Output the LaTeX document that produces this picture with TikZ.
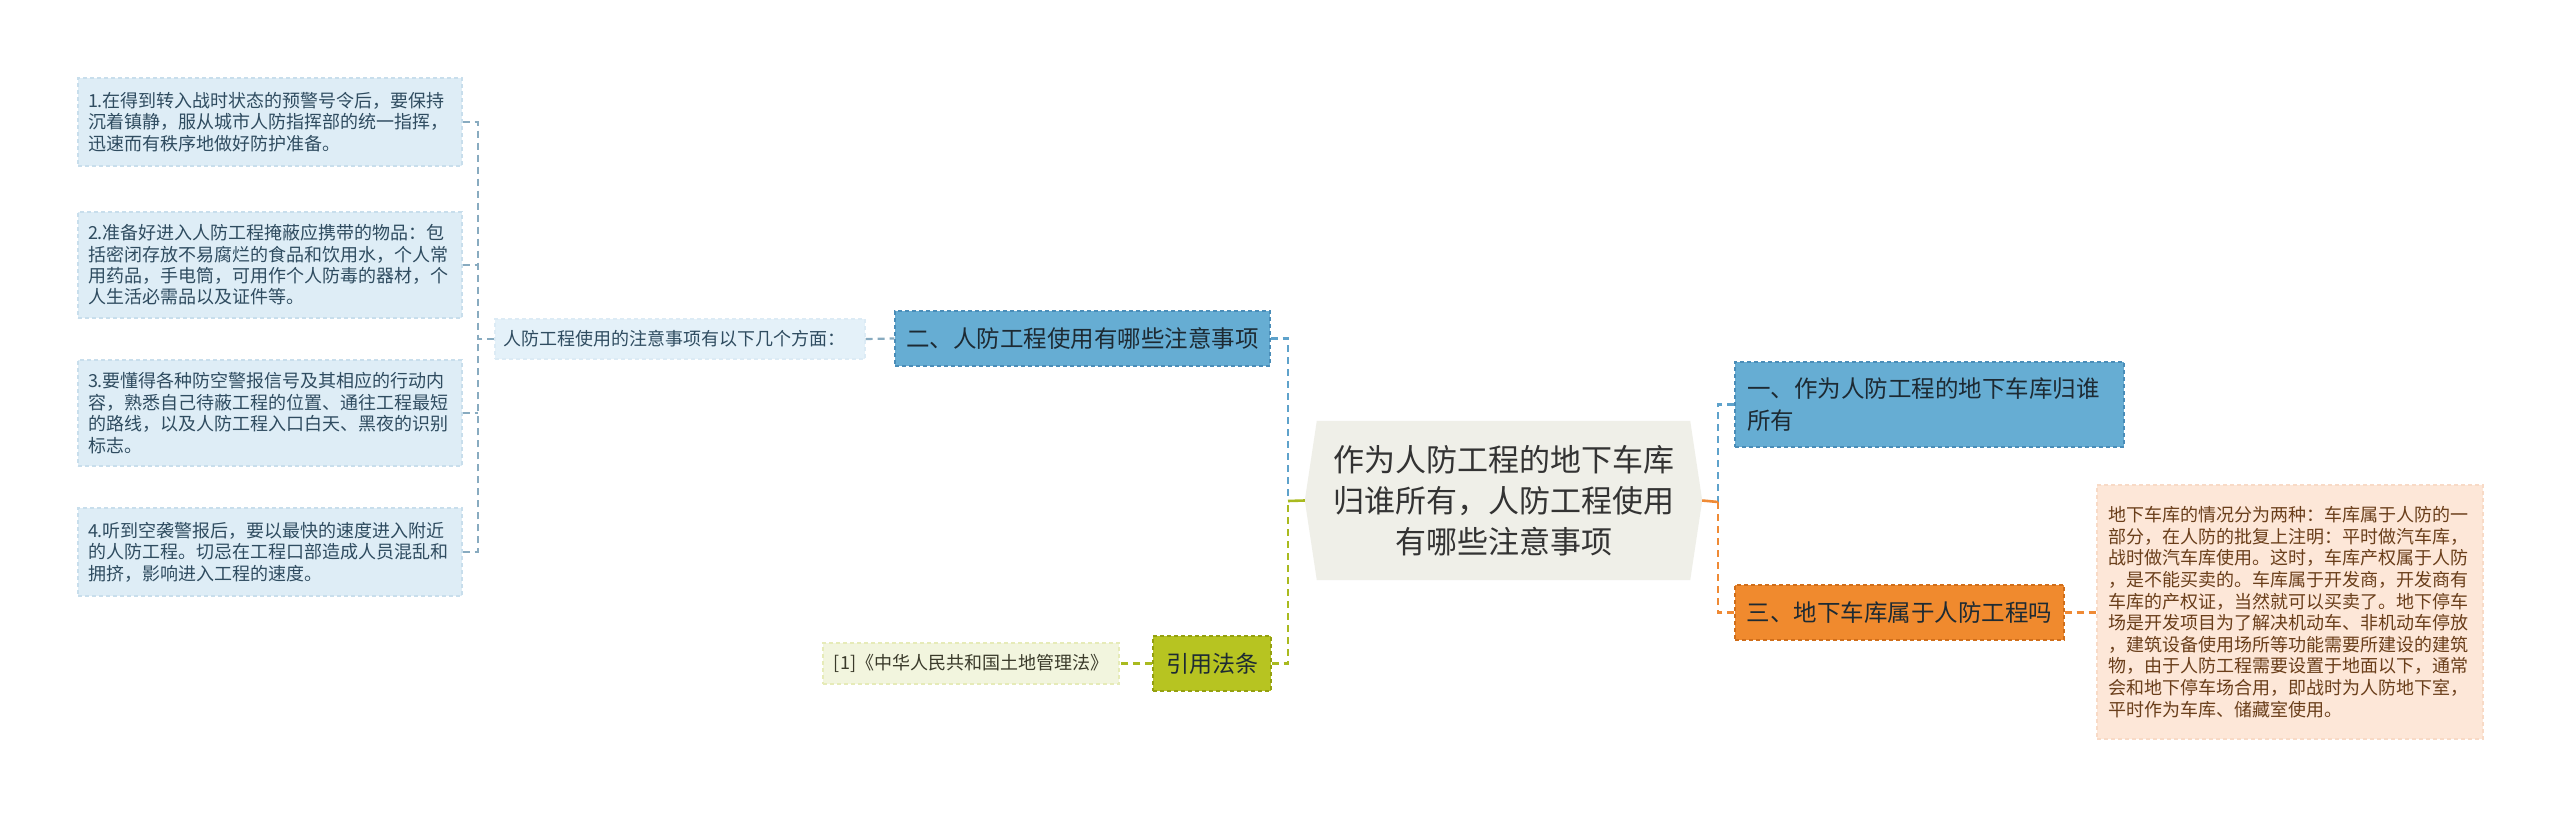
\documentclass[tikz,border=0pt]{standalone}
\usepackage{fontspec}
\setmainfont{Noto Sans CJK SC}
\usetikzlibrary{backgrounds}
\definecolor{leaffill}{HTML}{DEEDF6}
\definecolor{leafborder}{HTML}{C8DEEC}
\definecolor{leaftext}{HTML}{2F4C60}
\definecolor{midfill}{HTML}{E4F1F9}
\definecolor{bluefill}{HTML}{66ADD3}
\definecolor{blueborder}{HTML}{4A8DB8}
\definecolor{bluetext}{HTML}{1D2A33}
\definecolor{orangefill}{HTML}{F08A2E}
\definecolor{orangeborder}{HTML}{D06E1A}
\definecolor{greenfill}{HTML}{B7C421}
\definecolor{greenborder}{HTML}{94A010}
\definecolor{citefill}{HTML}{F2F5DE}
\definecolor{citetext}{HTML}{3A3A2A}
\definecolor{peachfill}{HTML}{FDE7D8}
\definecolor{peachborder}{HTML}{F8DAC6}
\definecolor{peachtext}{HTML}{6A3E1A}
\definecolor{centerfill}{HTML}{EFEFE8}
\definecolor{centertext}{HTML}{333333}
\definecolor{conblue}{HTML}{5EA2CB}
\definecolor{congray}{HTML}{88ABC0}
\definecolor{congreen}{HTML}{A9BA1F}
\definecolor{conorange}{HTML}{EF8A35}
\begin{document}
\begin{tikzpicture}[x=1pt,y=-1pt,
  boxline/.style={dashed, dash pattern=on 4pt off 3pt, line width=1.2pt},
  leafbox/.style={boxline, draw=leafborder, fill=leaffill, text=leaftext,
    font=\fontsize{18}{21.4}\selectfont, align=left, inner xsep=10pt, inner ysep=0pt,
    text width=364pt, anchor=center},
  midbox/.style={boxline, draw=midfill!70!leafborder, fill=midfill, text=leaftext,
    font=\fontsize{18}{21.4}\selectfont, align=left, inner xsep=8pt, inner ysep=0pt,
    text width=354pt, minimum height=40pt, anchor=center},
  bluebox/.style={boxline, draw=blueborder, fill=bluefill, text=bluetext,
    font=\fontsize{23.5}{31.7}\selectfont, align=left, inner ysep=0pt, anchor=center},
  orangebox/.style={boxline, draw=orangeborder, fill=orangefill, text=bluetext,
    font=\fontsize{23.5}{31.7}\selectfont, align=left, inner ysep=0pt, anchor=center},
  greenbox/.style={boxline, draw=greenborder, fill=greenfill, text=bluetext,
    font=\fontsize{23}{30}\selectfont, align=center, inner sep=0pt, anchor=center},
  citebox/.style={boxline, draw=citefill!80!greenfill, fill=citefill, text=citetext,
    font=\fontsize{18}{21.4}\selectfont, align=center, inner sep=0pt, anchor=center},
  peachbox/.style={boxline, draw=peachborder, fill=peachfill, text=peachtext,
    font=\fontsize{18}{21.6}\selectfont, align=left, inner xsep=11pt, inner ysep=0pt,
    text width=364pt, anchor=center},
  centerbox/.style={text=centertext, font=\fontsize{31}{41}\selectfont, align=center,
    inner sep=0pt, minimum width=397pt, minimum height=159pt, anchor=center},
  con/.style={line width=2.2pt, dashed, dash pattern=on 7pt off 5pt},
  stub/.style={line width=2.6pt}
]
\useasboundingbox (0,0) rectangle (2560,818);

% left leaves
\node[leafbox, minimum height=88pt] (l1) at (270,122) {1.在得到转入战时状态的预警号令后，要保持\\沉着镇静，服从城市人防指挥部的统一指挥，\\迅速而有秩序地做好防护准备。};
\node[leafbox, minimum height=106pt] (l2) at (270,265) {2.准备好进入人防工程掩蔽应携带的物品：包\\括密闭存放不易腐烂的食品和饮用水，个人常\\用药品，手电筒，可用作个人防毒的器材，个\\人生活必需品以及证件等。};
\node[leafbox, minimum height=106pt] (l3) at (270,413) {3.要懂得各种防空警报信号及其相应的行动内\\容，熟悉自己待蔽工程的位置、通往工程最短\\的路线，以及人防工程入口白天、黑夜的识别\\标志。};
\node[leafbox, minimum height=88pt] (l4) at (270,552) {4.听到空袭警报后，要以最快的速度进入附近\\的人防工程。切忌在工程口部造成人员混乱和\\拥挤，影响进入工程的速度。};

\node[midbox] (mid) at (680,339) {人防工程使用的注意事项有以下几个方面：};
\node[bluebox, inner xsep=11pt, text width=353pt, minimum height=55pt] (b2) at (1082.5,338.5) {二、人防工程使用有哪些注意事项};

\node[greenbox, minimum width=118pt, minimum height=55pt] (cite) at (1212,663.5) {引用法条};
\node[citebox, minimum width=296pt, minimum height=41pt] (law) at (971,663.5) {[1]《中华人民共和国土地管理法》};

% center
\node[centerbox] (c) at (1503.5,500.5) {作为人防工程的地下车库\\归谁所有，人防工程使用\\有哪些注意事项};
\begin{scope}[on background layer]
\fill[white] (0,0) rectangle (2560,818);
\fill[centerfill] ([xshift=12pt]c.north west) -- ([xshift=-12pt]c.north east) -- (c.east)
  -- ([xshift=-12pt]c.south east) -- ([xshift=12pt]c.south west) -- (c.west) -- cycle;
\end{scope}

% right side
\node[bluebox, inner xsep=12pt, text width=365pt, minimum height=85pt] (b1) at (1929.5,404.5) {一、作为人防工程的地下车库归谁\\所有};
\node[orangebox, inner xsep=11.5pt, text width=306pt, minimum height=55pt] (b3) at (1899.5,612.5) {三、地下车库属于人防工程吗};
\node[peachbox, minimum height=254pt] (r1) at (2290,612) {地下车库的情况分为两种：车库属于人防的一\\部分，在人防的批复上注明：平时做汽车库，\\战时做汽车库使用。这时，车库产权属于人防\\，是不能买卖的。车库属于开发商，开发商有\\车库的产权证，当然就可以买卖了。地下停车\\场是开发项目为了解决机动车、非机动车停放\\，建筑设备使用场所等功能需要所建设的建筑\\物，由于人防工程需要设置于地面以下，通常\\会和地下停车场合用，即战时为人防地下室，\\平时作为车库、储藏室使用。};

% connector coordinates
\coordinate (lb) at (478,339);
\coordinate (cl) at (1288,501);
\coordinate (cr) at (1718,502);

% left bracket
\draw[con, congray] (l1.east) -| (lb);
\draw[con, congray] (l4.east) -| (lb);
\draw[con, congray] (l2.east) -- (l2.east -| lb);
\draw[con, congray] (l3.east) -- (l3.east -| lb);
\draw[con, congray] (mid.west) -- (lb);
\draw[con, congray] (mid.east) -- (b2.west);

% center left
\draw[con, conblue] (b2.east) -| (cl);
\draw[con, congreen] (cite.east) -| (cl);
\draw[stub, congreen] (c.west) -- (cl);
\draw[con, congreen] (cite.west) -- (law.east);

% center right
\draw[con, conblue] (b1.west) -| (cr);
\draw[con, conorange] (b3.west) -| (cr);
\draw[stub, conorange] (c.east) -- (cr);
\draw[con, conorange] (b3.east) -- (r1.west |- b3.east);
\end{tikzpicture}
\end{document}
